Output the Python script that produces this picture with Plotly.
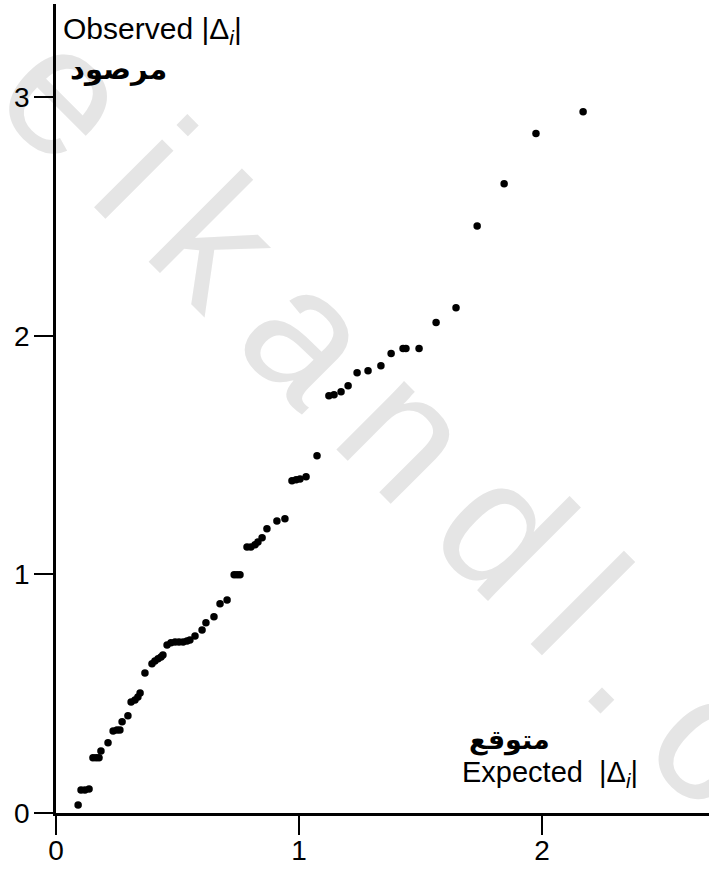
import plotly.graph_objects as go

# Half-normal plot: expected vs observed |Δi|
expected = [0.091, 0.103, 0.119, 0.136, 0.152, 0.165, 0.177, 0.185, 0.214, 0.235,
            0.251, 0.263, 0.272, 0.296, 0.309, 0.325, 0.337, 0.346, 0.366, 0.395,
            0.407, 0.420, 0.432, 0.440, 0.457, 0.473, 0.490, 0.506, 0.523, 0.539,
            0.551, 0.572, 0.601, 0.617, 0.650, 0.675, 0.704, 0.733, 0.745, 0.757,
            0.786, 0.802, 0.819, 0.831, 0.848, 0.868, 0.909, 0.942, 0.971, 0.988,
            1.004, 1.029, 1.074, 1.123, 1.144, 1.173, 1.202, 1.239, 1.284, 1.337,
            1.379, 1.428, 1.440, 1.494, 1.564, 1.646, 1.733, 1.844, 1.975, 2.169]
observed = [0.034, 0.096, 0.096, 0.101, 0.231, 0.231, 0.231, 0.260, 0.294, 0.344,
            0.348, 0.348, 0.382, 0.407, 0.465, 0.474, 0.486, 0.503, 0.587, 0.625,
            0.637, 0.646, 0.654, 0.662, 0.704, 0.713, 0.717, 0.717, 0.717, 0.721,
            0.725, 0.742, 0.767, 0.797, 0.822, 0.877, 0.893, 0.998, 0.998, 0.998,
            1.115, 1.115, 1.124, 1.136, 1.153, 1.191, 1.224, 1.233, 1.392, 1.396,
            1.400, 1.409, 1.497, 1.748, 1.753, 1.765, 1.790, 1.845, 1.853, 1.874,
            1.925, 1.946, 1.946, 1.946, 2.055, 2.117, 2.460, 2.637, 2.847, 2.939]

x_ticks = [0, 1, 2]
y_ticks = [0, 1, 2, 3]

y_title_en = "Observed |Δ<sub><i>i</i></sub>|"
y_title_ar = "مرصود"
x_title_en = "Expected  |Δ<sub><i>i</i></sub>|"
x_title_ar = "متوقع"
watermark = "\u2009".join("eikandl.com")

FONT = "Liberation Sans, Arial, Helvetica, sans-serif"

fig = go.Figure()
fig.add_trace(go.Scatter(
    x=expected, y=observed, mode="markers",
    marker=dict(color="black", size=7.5, line=dict(width=0)),
    hoverinfo="skip", showlegend=False, cliponaxis=False,
))

axis_common = dict(
    showline=True, linecolor="black", linewidth=2.5, mirror=False,
    showgrid=False, zeroline=False, automargin=False,
    ticks="outside", ticklen=19, tickwidth=2.2, tickcolor="black",
    tickfont=dict(family=FONT, size=28, color="black"),
)

# watermark drawn beneath the axes and points, as the label of an invisible shape
wx = (517 - 56) / 653
wy = (813 - 517) / 809
fig.add_shape(
    type="rect", xref="paper", yref="paper",
    x0=wx - 0.01, x1=wx + 0.01, y0=wy - 0.01, y1=wy + 0.01,
    line=dict(width=0), fillcolor="rgba(0,0,0,0)", layer="below",
    label=dict(text=watermark, textangle=45, textposition="middle center",
               font=dict(family=FONT, size=182, color="rgb(229,229,229)")),
)

fig.update_layout(
    width=709, height=875,
    margin=dict(l=56, r=0, t=4, b=62),
    paper_bgcolor="white", plot_bgcolor="white",
    xaxis=dict(range=[0, 2.687], tickvals=x_ticks, ticktext=[str(v) for v in x_ticks],
               ticklabelstandoff=-8, **axis_common),
    yaxis=dict(range=[0, 3.39], tickvals=y_ticks, ticktext=[str(v) for v in y_ticks],
               ticklabelstandoff=-1, **axis_common),
    annotations=[
        dict(text=y_title_en, xref="paper", yref="paper", x=0.008, y=0.992,
             xanchor="left", yanchor="top", showarrow=False,
             font=dict(family=FONT, size=30, color="black")),
        dict(text="<b>" + y_title_ar + "</b>", xref="paper", yref="paper", x=0.018, y=0.920,
             xanchor="left", yanchor="middle", showarrow=False,
             font=dict(family="DejaVu Sans, sans-serif", size=29, color="black")),
        dict(text=x_title_en, xref="paper", yref="paper", x=0.619, y=0.048,
             xanchor="left", yanchor="middle", showarrow=False,
             font=dict(family=FONT, size=29, color="black")),
        dict(text="<b>" + x_title_ar + "</b>", xref="paper", yref="paper", x=0.694, y=0.090,
             xanchor="center", yanchor="middle", showarrow=False,
             font=dict(family="DejaVu Sans, sans-serif", size=27, color="black")),
    ],
)

fig.write_html("out.html", config={"displayModeBar": False},
               post_script="document.body.style.margin='0px';")
